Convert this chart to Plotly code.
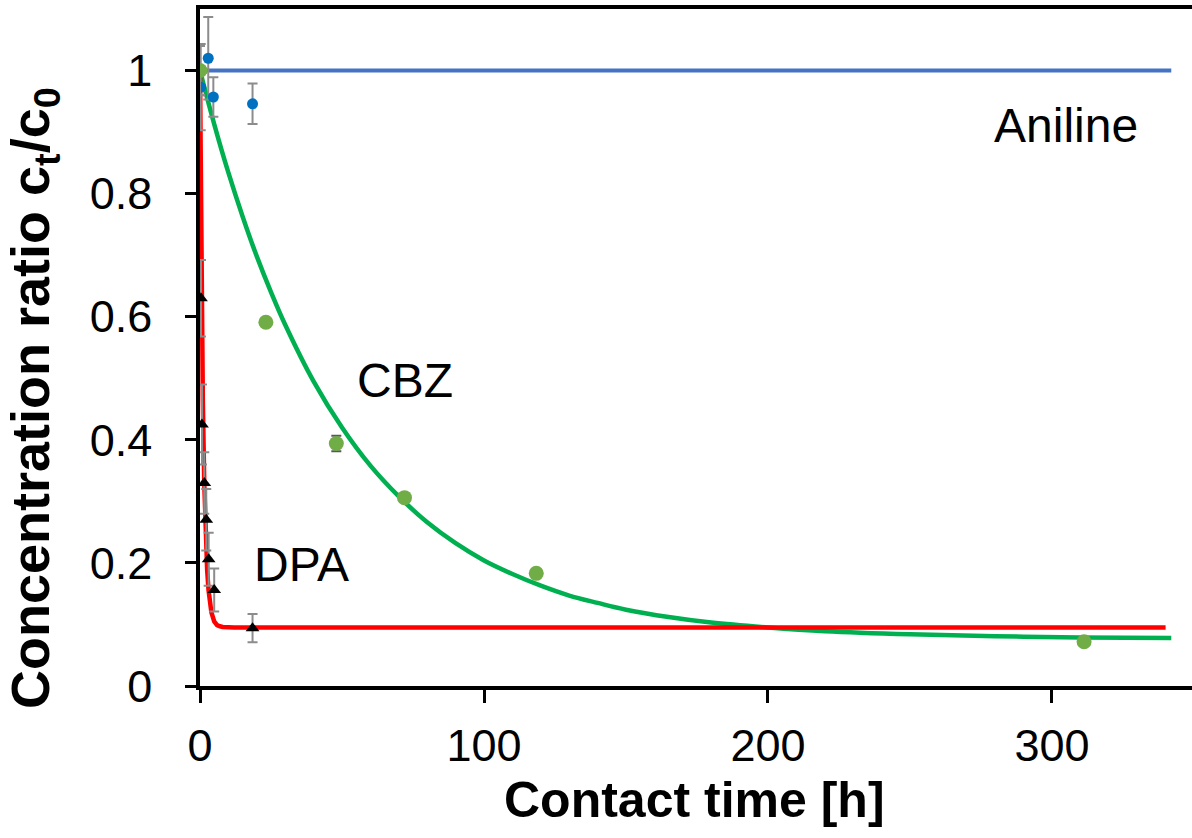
import plotly.graph_objects as go

# Measured concentration ratios c_t/c_0 vs. contact time [h]
aniline_t = [0, 0.25, 2.9, 4.7, 18.5]
aniline_c = [1.0, 0.973, 1.02, 0.957, 0.946]
aniline_err = [0.04, 0.07, 0.067, 0.032, 0.033]

cbz_t = [0, 23.2, 48.0, 72.0, 118.4, 311.3]
cbz_c = [1.0, 0.591, 0.394, 0.306, 0.183, 0.072]
cbz_err = [0.0, 0.006, 0.0125, 0.006, 0.006, 0.005]

dpa_t = [0, 0.35, 0.7, 1.5, 2.2, 3.05, 5.0, 18.5]
dpa_c = [1.0, 0.63, 0.425, 0.33, 0.27, 0.206, 0.156, 0.094]
dpa_err = [0.04, 0.062, 0.065, 0.05, 0.05, 0.043, 0.035, 0.023]

# Fitted kinetic curves
aniline_fit_t = [0, 342]
aniline_fit_c = [1.0, 1.0]

cbz_fit_t = [0, 5, 10, 15, 20, 25, 30, 40, 50, 60, 70, 80, 90, 100, 110, 120,
             130, 140, 150, 165, 180, 200, 220, 250, 280, 310, 342]
cbz_fit_c = [1.0, 0.913, 0.834, 0.763, 0.698, 0.640, 0.587, 0.495, 0.420, 0.358,
             0.308, 0.266, 0.232, 0.204, 0.182, 0.163, 0.147, 0.135, 0.124, 0.112,
             0.103, 0.095, 0.089, 0.084, 0.081, 0.079, 0.078]

dpa_fit_t = [0, 0.25, 0.5, 0.75, 1, 1.5, 2, 2.5, 3, 3.5, 4, 5, 6, 7, 8, 12, 20, 100, 340]
dpa_fit_c = [1.0, 0.818, 0.672, 0.556, 0.463, 0.330, 0.245, 0.190, 0.156, 0.134,
             0.120, 0.105, 0.099, 0.097, 0.096, 0.095, 0.095, 0.095, 0.095]

FONT = "Liberation Sans, Arial, sans-serif"
ERR_COLOR = "#8C8C8C"

fig = go.Figure()

fig.add_trace(go.Scatter(x=aniline_fit_t, y=aniline_fit_c, mode="lines",
                         line=dict(color="#4472C4", width=4), hoverinfo="skip"))
fig.add_trace(go.Scatter(x=cbz_fit_t, y=cbz_fit_c, mode="lines",
                         line=dict(color="#00B050", width=4.5, shape="spline"),
                         hoverinfo="skip"))
fig.add_trace(go.Scatter(x=dpa_fit_t, y=dpa_fit_c, mode="lines",
                         line=dict(color="#FF0000", width=4.5), hoverinfo="skip"))

fig.add_trace(go.Scatter(
    x=aniline_t, y=aniline_c, mode="markers", name="Aniline",
    marker=dict(color="#0070C0", size=11, symbol="circle"),
    error_y=dict(type="data", array=aniline_err, color=ERR_COLOR, thickness=2, width=5)))
fig.add_trace(go.Scatter(
    x=dpa_t, y=dpa_c, mode="markers", name="DPA",
    marker=dict(color="black", size=12, symbol="triangle-up"),
    error_y=dict(type="data", array=dpa_err, color=ERR_COLOR, thickness=2, width=5)))
fig.add_trace(go.Scatter(
    x=cbz_t, y=cbz_c, mode="markers", name="CBZ",
    marker=dict(color="#70AD47", size=15, symbol="circle"),
    error_y=dict(type="data", array=cbz_err, color="#595959", thickness=2, width=5)))

W, H = 1192, 838
L, R, T, B = 200, 0, 9, 152
pw, ph = W - L - R, H - T - B


def px_to_paper(px, py):
    """Convert a page pixel position to paper coordinates."""
    return (px - L) / pw, (H - B - py) / ph


xt_x, xt_y = px_to_paper(694, 800)
yt_x, yt_y = px_to_paper(34, 398)

fig.update_layout(
    width=W, height=H,
    margin=dict(l=L, r=R, t=T, b=B),
    paper_bgcolor="white", plot_bgcolor="white",
    showlegend=False,
    font=dict(family=FONT, color="black"),
    xaxis=dict(
        range=[0, 349.3], tickvals=[0, 100, 200, 300],
        ticks="outside", ticklen=13, tickwidth=3, tickcolor="black",
        showline=True, linecolor="black", linewidth=3.5, mirror=True,
        showgrid=False, zeroline=False,
        tickfont=dict(family=FONT, size=45, color="black"),
        ticklabelstandoff=4,
    ),
    yaxis=dict(
        range=[0, 1.1], tickvals=[0, 0.2, 0.4, 0.6, 0.8, 1.0],
        ticktext=["0", "0.2", "0.4", "0.6", "0.8", "1"],
        ticks="outside", ticklen=11, tickwidth=3, tickcolor="black",
        showline=True, linecolor="black", linewidth=3.5,
        showgrid=False, zeroline=False,
        tickfont=dict(family=FONT, size=45, color="black"),
        ticklabelstandoff=24,
    ),
    annotations=[
        dict(x=305, y=0.911, xref="x", yref="y", text="Aniline", showarrow=False,
             font=dict(family=FONT, size=48, color="black")),
        dict(x=72.2, y=0.497, xref="x", yref="y", text="CBZ", showarrow=False,
             font=dict(family=FONT, size=48, color="black")),
        dict(x=35.6, y=0.198, xref="x", yref="y", text="DPA", showarrow=False,
             font=dict(family=FONT, size=48, color="black")),
        dict(x=xt_x, y=xt_y, xref="paper", yref="paper", text="<b>Contact time [h]</b>",
             xanchor="center", yanchor="middle", showarrow=False,
             font=dict(family=FONT, size=50, color="black")),
        dict(x=yt_x, y=yt_y, xref="paper", yref="paper",
             text="<b>Concentration ratio c<sub>t</sub>/c<sub>0</sub></b>",
             xanchor="center", yanchor="middle", textangle=-90, showarrow=False,
             font=dict(family=FONT, size=54, color="black")),
    ],
)

fig.write_html("out.html")
